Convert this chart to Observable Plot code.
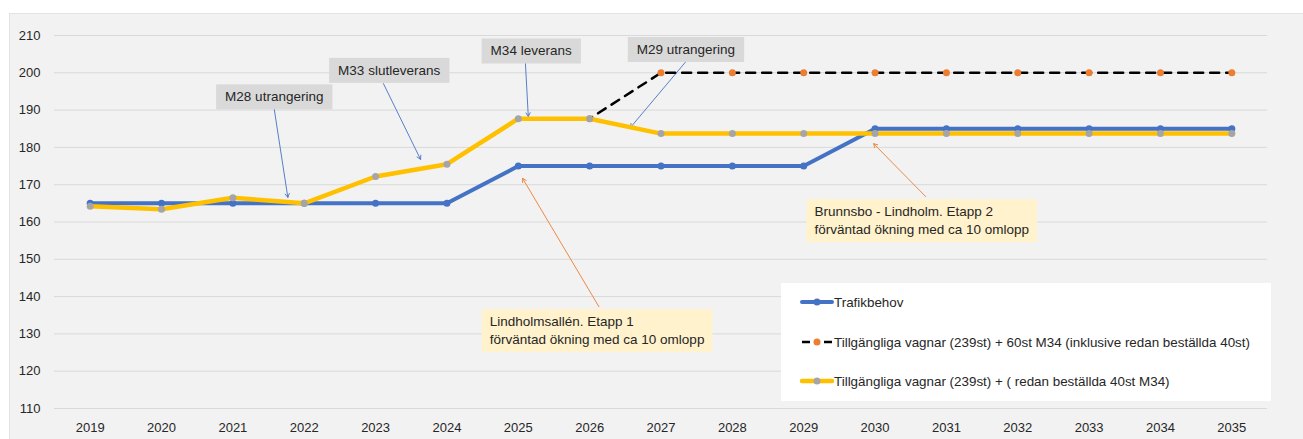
<!DOCTYPE html>
<html>
<head>
<meta charset="utf-8">
<script src="https://cdn.jsdelivr.net/npm/d3@7"></script>
<script src="https://cdn.jsdelivr.net/npm/@observablehq/plot@0.6"></script>
<style>
  body { margin: 0; background: #fff; }
  #chart svg { display: block; }
</style>
</head>
<body>
<div id="chart"></div>
<script>
// ---------- data ----------
const years = [2019,2020,2021,2022,2023,2024,2025,2026,2027,2028,2029,2030,2031,2032,2033,2034,2035];
const yTicks = [110,120,130,140,150,160,170,180,190,200,210];
const trafikbehov = [165,165,165,165,165,165,175,175,175,175,175,185,185,185,185,185,185];
const med60st = [null,null,null,null,null,null,null,187.7,200,200,200,200,200,200,200,200,200];
const redanBestallda = [164.2,163.4,166.5,165,172.2,175.5,187.7,187.7,183.7,183.7,183.7,183.7,183.7,183.7,183.7,183.7,183.7];

const seriesNames = [
  "Trafikbehov",
  "Tillgängliga vagnar (239st) + 60st M34 (inklusive redan beställda 40st)",
  "Tillgängliga vagnar (239st) + ( redan beställda 40st M34)"
];

// grey callouts (label centre, arrow start -> arrow end), in data units
const calloutText = ["M28 utrangering", "M33 slutleverans", "M34 leverans", "M29 utrangering"];
const calloutX = [2021.58, 2023.19, 2025.18, 2027.35];
const calloutY = [193.5, 200.6, 205.8, 206.2];
const calloutX1 = [2021.58, 2023.11, 2025.10, 2027.34];
const calloutY1 = [190.2, 197.1, 202.5, 202.8];
const calloutX2 = [2021.77, 2023.63, 2025.14, 2026.57];
const calloutY2 = [166.6, 176.8, 188.3, 185.3];

// yellow notes
const noteText = [
  "Lindholmsallén. Etapp 1\nförväntad ökning med ca 10 omlopp",
  "Brunnsbo - Lindholm. Etapp 2\nförväntad ökning med ca 10 omlopp"
];
const noteX = [2024.60, 2029.15];
const noteY = [131.2, 160.7];
const noteX1 = [2026.13, 2030.71];
const noteY1 = [137.3, 166.8];
const noteX2 = [2025.06, 2029.98];
const noteY2 = [171.7, 181.0];

// ---------- tables ----------
const tBlue = years.map((x, i) => ({x, y: trafikbehov[i]}));
const tDash = years.map((x, i) => ({x, y: med60st[i]})).filter(d => d.y != null);
const tYellow = years.map((x, i) => ({x, y: redanBestallda[i]}));
const callouts = calloutText.map((t, i) => ({t, x: calloutX[i], y: calloutY[i], x1: calloutX1[i], y1: calloutY1[i], x2: calloutX2[i], y2: calloutY2[i]}));
const notes = noteText.map((t, i) => ({t, x: noteX[i], y: noteY[i], x1: noteX1[i], y1: noteY1[i], x2: noteX2[i], y2: noteY2[i]}));

const FONT = "'Liberation Sans', Arial, sans-serif";
const BLUE = "#4472c4", ORANGE = "#ed7d31", YELLOW = "#ffc000", GREY = "#a5a5a5";

const chart = Plot.plot({
  width: 1303,
  height: 439,
  marginLeft: 54,
  marginRight: 36,
  marginTop: 35,
  marginBottom: 31,
  style: {fontFamily: FONT, fontSize: "13px", color: "#262626", background: "transparent", overflow: "visible"},
  x: {domain: [2018.5, 2035.5]},
  y: {domain: [110, 210]},
  marks: [
    Plot.gridY(yTicks, {stroke: "#d9d9d9", strokeOpacity: 1, strokeWidth: 1}),
    Plot.axisY(yTicks, {tickSize: 0, tickPadding: 14, label: null, fill: "#262626"}),
    Plot.axisX(years, {tickSize: 0, tickPadding: 14, tickFormat: "d", label: null, fill: "#262626"}),
    // arrows
    Plot.arrow(callouts, {x1: "x1", y1: "y1", x2: "x2", y2: "y2", stroke: BLUE, strokeWidth: 0.9, headLength: 7}),
    Plot.arrow(notes, {x1: "x1", y1: "y1", x2: "x2", y2: "y2", stroke: ORANGE, strokeWidth: 0.9, headLength: 7}),
    // series
    Plot.line(tBlue, {x: "x", y: "y", stroke: BLUE, strokeWidth: 4, strokeLinejoin: "round", strokeLinecap: "round"}),
    Plot.dot(tBlue, {x: "x", y: "y", r: 3.5, fill: BLUE}),
    Plot.line(tDash, {x: "x", y: "y", stroke: "#000", strokeWidth: 2.5, strokeDasharray: "9,7", strokeDashoffset: -10}),
    Plot.dot(tDash, {x: "x", y: "y", r: 3.5, fill: ORANGE}),
    Plot.line(tYellow, {x: "x", y: "y", stroke: YELLOW, strokeWidth: 4.5, strokeLinejoin: "round", strokeLinecap: "round"}),
    Plot.dot(tYellow, {x: "x", y: "y", r: 3.5, fill: GREY}),
    // labels
    Plot.text(callouts, {x: "x", y: "y", text: "t", fontSize: 13.5, fill: "#262626", fontFamily: FONT}),
    Plot.text(notes, {x: "x", y: "y", text: "t", fontSize: 13.5, fill: "#262626", textAnchor: "start", lineHeight: 1.33, fontFamily: FONT})
  ]
});

document.getElementById("chart").appendChild(chart);

// ---------- decoration ----------
const svg = d3.select(chart);
// grey panel
svg.insert("rect", ":first-child")
  .attr("x", 9.5).attr("y", 13.5).attr("width", 1303 - 9).attr("height", 439 - 13)
  .attr("fill", "#f2f2f2").attr("stroke", "#e3e3e3");

// boxes behind labels
const textGroups = svg.selectAll('g[aria-label="text"]').nodes();
function boxes(g, fill, padX, padY) {
  const gs = d3.select(g);
  const items = [];
  gs.selectAll("text").each(function () {
    items.push({b: this.getBBox(), tr: this.getAttribute("transform")});
  });
  items.forEach(({b, tr}) => {
    const r = gs.insert("rect", ":first-child")
      .attr("x", b.x - padX).attr("y", b.y - padY)
      .attr("width", b.width + 2 * padX).attr("height", b.height + 2 * padY)
      .attr("fill", fill);
    if (tr) r.attr("transform", tr);
  });
}
if (textGroups.length >= 2) {
  boxes(textGroups[textGroups.length - 2], "#d9d9d9", 9, 5);
  boxes(textGroups[textGroups.length - 1], "#fff2cc", 8, 5);
}

// legend
const lg = svg.append("g").attr("font-family", FONT).attr("font-size", 13.4).attr("fill", "#262626").attr("text-anchor", "start");
lg.append("rect").attr("x", 781).attr("y", 283).attr("width", 490).attr("height", 118).attr("fill", "#fff");
const rowsY = [302, 342, 381];
const lx1 = 802, lx2 = 832, lxm = 817;
// row 1
lg.append("line").attr("x1", lx1).attr("x2", lx2).attr("y1", rowsY[0]).attr("y2", rowsY[0]).attr("stroke", BLUE).attr("stroke-width", 4).attr("stroke-linecap", "round");
lg.append("circle").attr("cx", lxm).attr("cy", rowsY[0]).attr("r", 3.5).attr("fill", BLUE);
// row 2
lg.append("line").attr("x1", lx1).attr("x2", lx2).attr("y1", rowsY[1]).attr("y2", rowsY[1]).attr("stroke", "#000").attr("stroke-width", 2.5).attr("stroke-dasharray", "8,14");
lg.append("circle").attr("cx", lxm).attr("cy", rowsY[1]).attr("r", 3.5).attr("fill", ORANGE);
// row 3
lg.append("line").attr("x1", lx1).attr("x2", lx2).attr("y1", rowsY[2]).attr("y2", rowsY[2]).attr("stroke", YELLOW).attr("stroke-width", 4.5).attr("stroke-linecap", "round");
lg.append("circle").attr("cx", lxm).attr("cy", rowsY[2]).attr("r", 3.5).attr("fill", GREY);
seriesNames.forEach((n, i) => {
  lg.append("text").attr("x", 834).attr("y", rowsY[i]).attr("dy", "0.35em").text(n);
});
</script>
</body>
</html>
